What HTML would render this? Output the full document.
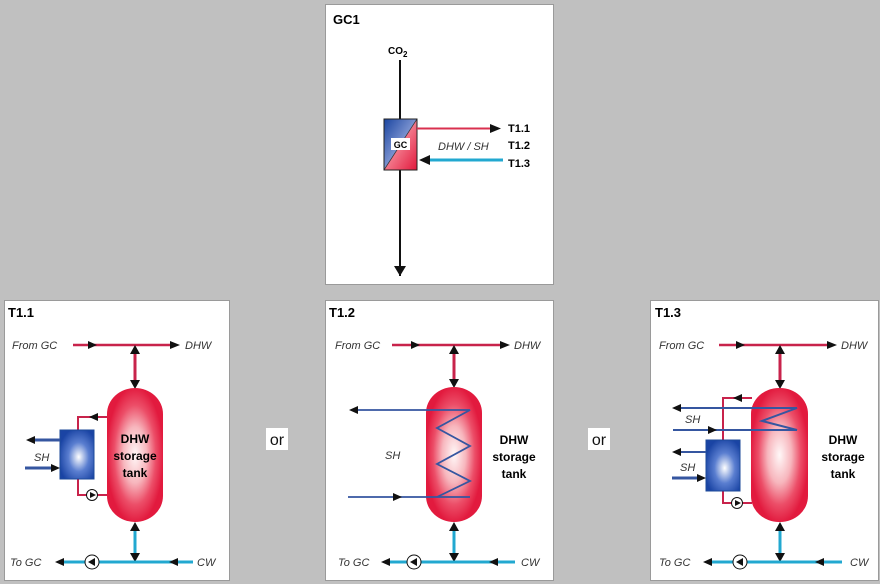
<!DOCTYPE html>
<html><head><meta charset="utf-8"><style>
html,body{margin:0;padding:0;background:#c0c0c0;}
svg{display:block;}
text{font-family:"Liberation Sans",Arial,sans-serif;}
</style></head><body>
<svg width="880" height="584" viewBox="0 0 880 584" xmlns="http://www.w3.org/2000/svg">
<defs>
<radialGradient id="tank" cx="0.5" cy="0.5" r="0.6">
<stop offset="0" stop-color="#fff8f8"/><stop offset="0.35" stop-color="#f7b6bd"/><stop offset="0.62" stop-color="#ec4e68"/><stop offset="0.85" stop-color="#e21a3e"/>
</radialGradient>
<radialGradient id="hx" cx="0.55" cy="0.55" r="0.6">
<stop offset="0" stop-color="#fff"/><stop offset="0.5" stop-color="#5a7ed0"/><stop offset="1" stop-color="#1a44a4"/>
</radialGradient>
<linearGradient id="gcb" x1="0" y1="0" x2="1" y2="1">
<stop offset="0" stop-color="#1a45a0"/><stop offset="0.6" stop-color="#8fa3da"/>
</linearGradient>
<linearGradient id="gcr" x1="1" y1="1" x2="0" y2="0">
<stop offset="0" stop-color="#e2183c"/><stop offset="0.6" stop-color="#f58b9a"/>
</linearGradient>
</defs>
<g fill="#fff" stroke="#9a9a9a" stroke-width="1">
<rect x="325.5" y="4.5" width="228" height="280"/>
<rect x="4.5" y="300.5" width="225" height="280"/>
<rect x="325.5" y="300.5" width="228" height="280"/>
<rect x="650.5" y="300.5" width="228" height="280"/>
</g>
<rect x="266" y="428" width="22" height="22" fill="#fff"/>
<rect x="588" y="428" width="22" height="22" fill="#fff"/>
<text x="277" y="445" font-size="16" text-anchor="middle" fill="#111">or</text>
<text x="599" y="445" font-size="16" text-anchor="middle" fill="#111">or</text>

<!-- GC1 -->
<text x="333" y="24" font-size="13" font-weight="bold">GC1</text>
<text x="388" y="54" font-size="10" font-weight="bold">CO<tspan font-size="8" dy="3">2</tspan></text>
<line x1="400" y1="60" x2="400" y2="276" stroke="#111" stroke-width="2"/>
<path d="M394,266L406,266L400,276z" fill="#111"/>
<rect x="384" y="119" width="33" height="51" fill="url(#gcr)"/>
<path d="M384,119H417L384,170z" fill="url(#gcb)"/>
<line x1="384" y1="170" x2="417" y2="119" stroke="#333" stroke-width="0.7"/>
<rect x="384" y="119" width="33" height="51" fill="none" stroke="#222" stroke-width="1"/>
<rect x="391" y="138" width="19" height="12" fill="#fff"/>
<text x="400.5" y="148" font-size="9" font-weight="bold" text-anchor="middle">GC</text>
<line x1="417" y1="128.5" x2="492" y2="128.5" stroke="#d9304f" stroke-width="2"/>
<path d="M490,124L501,128.5L490,133z" fill="#111"/>
<line x1="428" y1="160" x2="503" y2="160" stroke="#22a8d0" stroke-width="3"/>
<path d="M430,155L419,160L430,165z" fill="#111"/>
<text x="438" y="150" font-size="11" font-style="italic" fill="#333">DHW / SH</text>
<g font-size="11" font-weight="bold"><text x="508" y="132">T1.1</text><text x="508" y="149">T1.2</text><text x="508" y="167">T1.3</text></g>

<!-- T1.1 -->
<g>
<text x="8" y="317" font-size="13" font-weight="bold">T1.1</text>
<text x="12" y="349" font-size="11" font-style="italic" fill="#333">From GC</text>
<text x="185" y="349" font-size="11" font-style="italic" fill="#333">DHW</text>
<line x1="73" y1="345" x2="172" y2="345" stroke="#c8234b" stroke-width="2.5"/>
<path d="M88,341L97,345L88,349z M170,341L180,345L170,349z" fill="#111"/>
<line x1="135" y1="352" x2="135" y2="382" stroke="#c8234b" stroke-width="3"/>
<path d="M130,354L135,345L140,354z M130,380L135,389L140,380z" fill="#111"/>
<path d="M107,417H78V430 M78,479V495H107" fill="none" stroke="#c8234b" stroke-width="2"/>
<path d="M98,413L89,417L98,421z" fill="#111"/>
<rect x="107" y="388" width="56" height="134" rx="28" ry="26" fill="url(#tank)"/>
<g font-size="12" font-weight="bold" text-anchor="middle"><text x="135" y="443">DHW</text><text x="135" y="460">storage</text><text x="135" y="477">tank</text></g>
<rect x="60" y="430" width="34" height="49" fill="url(#hx)" stroke="#1c4a9a"/>
<circle cx="92" cy="495" r="5.5" fill="#fff" stroke="#111"/><path d="M90,492L96,495L90,498z" fill="#111"/>
<line x1="34" y1="440" x2="60" y2="440" stroke="#3556a0" stroke-width="3"/><path d="M35,436L26,440L35,444z" fill="#111"/>
<line x1="25" y1="468" x2="52" y2="468" stroke="#3556a0" stroke-width="3"/><path d="M51,464L60,468L51,472z" fill="#111"/>
<text x="34" y="461" font-size="11" font-style="italic" fill="#333">SH</text>
<line x1="135" y1="530" x2="135" y2="556" stroke="#22a8d0" stroke-width="3"/>
<path d="M130,531L135,522L140,531z M130,553L135,562L140,553z" fill="#111"/>
<line x1="62" y1="562" x2="193" y2="562" stroke="#22a8d0" stroke-width="3"/>
<path d="M64,558L55,562L64,566z M178,558L169,562L178,566z" fill="#111"/>
<circle cx="92" cy="562" r="7" fill="#fff" stroke="#111"/><path d="M95,558L88,562L95,566z" fill="#111"/>
<text x="10" y="566" font-size="11" font-style="italic" fill="#333">To GC</text>
<text x="197" y="566" font-size="11" font-style="italic" fill="#333">CW</text>
</g>

<!-- T1.2 -->
<g>
<text x="329" y="317" font-size="13" font-weight="bold">T1.2</text>
<text x="335" y="349" font-size="11" font-style="italic" fill="#333">From GC</text>
<text x="514" y="349" font-size="11" font-style="italic" fill="#333">DHW</text>
<line x1="392" y1="345" x2="500" y2="345" stroke="#c8234b" stroke-width="2.5"/>
<path d="M411,341L420,345L411,349z M500,341L510,345L500,349z" fill="#111"/>
<line x1="454" y1="352" x2="454" y2="381" stroke="#c8234b" stroke-width="3"/>
<path d="M449,354L454,345L459,354z M449,379L454,388L459,379z" fill="#111"/>
<rect x="426" y="387" width="56" height="135" rx="28" ry="26" fill="url(#tank)"/>
<path d="M358,410H470L437,428L470,446L437,464L470,481L437,497H470 M348,497H437" fill="none" stroke="#3556a0" stroke-width="1.8"/>
<path d="M358,406L349,410L358,414z M393,493L402,497L393,501z" fill="#111"/>
<text x="385" y="459" font-size="11" font-style="italic" fill="#333">SH</text>
<g font-size="12" font-weight="bold" text-anchor="middle"><text x="514" y="444">DHW</text><text x="514" y="461">storage</text><text x="514" y="478">tank</text></g>
<line x1="454" y1="530" x2="454" y2="556" stroke="#22a8d0" stroke-width="3"/>
<path d="M449,531L454,522L459,531z M449,553L454,562L459,553z" fill="#111"/>
<line x1="388" y1="562" x2="515" y2="562" stroke="#22a8d0" stroke-width="3"/>
<path d="M390,558L381,562L390,566z M498,558L489,562L498,566z" fill="#111"/>
<circle cx="414" cy="562" r="7" fill="#fff" stroke="#111"/><path d="M417,558L410,562L417,566z" fill="#111"/>
<text x="338" y="566" font-size="11" font-style="italic" fill="#333">To GC</text>
<text x="521" y="566" font-size="11" font-style="italic" fill="#333">CW</text>
</g>

<!-- T1.3 -->
<g>
<text x="655" y="317" font-size="13" font-weight="bold">T1.3</text>
<text x="659" y="349" font-size="11" font-style="italic" fill="#333">From GC</text>
<text x="841" y="349" font-size="11" font-style="italic" fill="#333">DHW</text>
<line x1="719" y1="345" x2="828" y2="345" stroke="#c8234b" stroke-width="2.5"/>
<path d="M736,341L745,345L736,349z M827,341L837,345L827,349z" fill="#111"/>
<line x1="780" y1="352" x2="780" y2="382" stroke="#c8234b" stroke-width="3"/>
<path d="M775,354L780,345L785,354z M775,380L780,389L785,380z" fill="#111"/>
<path d="M752,398H723V440 M723,491V503H752" fill="none" stroke="#c8234b" stroke-width="2"/>
<path d="M742,394L733,398L742,402z" fill="#111"/>
<rect x="751" y="388" width="57" height="134" rx="28" ry="26" fill="url(#tank)"/>
<path d="M680,408H797L762,421L797,430H673" fill="none" stroke="#3556a0" stroke-width="2"/>
<path d="M681,404L672,408L681,412z M708,426L717,430L708,434z" fill="#111"/>
<g font-size="12" font-weight="bold" text-anchor="middle"><text x="843" y="444">DHW</text><text x="843" y="461">storage</text><text x="843" y="478">tank</text></g>
<rect x="706" y="440" width="34" height="51" fill="url(#hx)" stroke="#1c4a9a"/>
<circle cx="737" cy="503" r="5.5" fill="#fff" stroke="#111"/><path d="M735,500L741,503L735,506z" fill="#111"/>
<line x1="680" y1="452" x2="706" y2="452" stroke="#3556a0" stroke-width="2"/><path d="M681,448L672,452L681,456z" fill="#111"/>
<line x1="672" y1="478" x2="698" y2="478" stroke="#3556a0" stroke-width="3"/><path d="M697,474L706,478L697,482z" fill="#111"/>
<text x="685" y="423" font-size="11" font-style="italic" fill="#333">SH</text>
<text x="680" y="471" font-size="11" font-style="italic" fill="#333">SH</text>
<line x1="780" y1="530" x2="780" y2="556" stroke="#22a8d0" stroke-width="3"/>
<path d="M775,531L780,522L785,531z M775,553L780,562L785,553z" fill="#111"/>
<line x1="710" y1="562" x2="842" y2="562" stroke="#22a8d0" stroke-width="3"/>
<path d="M712,558L703,562L712,566z M824,558L815,562L824,566z" fill="#111"/>
<circle cx="740" cy="562" r="7" fill="#fff" stroke="#111"/><path d="M743,558L736,562L743,566z" fill="#111"/>
<text x="659" y="566" font-size="11" font-style="italic" fill="#333">To GC</text>
<text x="850" y="566" font-size="11" font-style="italic" fill="#333">CW</text>
</g>
</svg>
</body></html>
